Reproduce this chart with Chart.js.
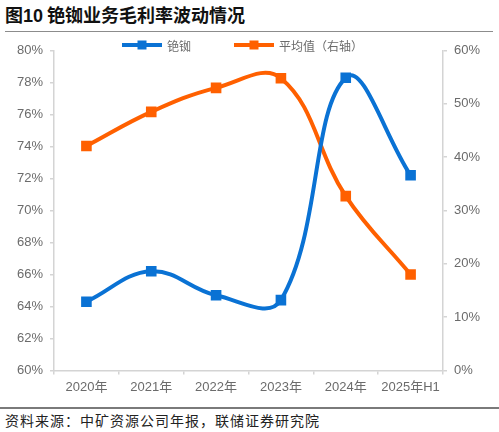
<!DOCTYPE html>
<html>
<head>
<meta charset="utf-8">
<script src="https://cdn.jsdelivr.net/npm/chart.js@4.4.1/dist/chart.umd.min.js"></script>
<style>
  html, body { margin: 0; padding: 0; background: #fff; }
  body { width: 499px; height: 432px; position: relative; overflow: hidden; font-family: "Noto Sans CJK SC", sans-serif; }
  #title { position: absolute; left: 5px; top: 1px; font-size: 18px; font-weight: bold; color: #111; white-space: nowrap; }
  #title .num { font-family: "Liberation Sans", Arial, sans-serif; }
  #rule1 { position: absolute; left: 5px; top: 31px; width: 488px; height: 1px; background: #8c8c8c; }
  #wrap { position: absolute; left: 0; top: 33px; width: 499px; height: 372px; }
  #rule2 { position: absolute; left: 0; top: 407px; width: 499px; height: 2px; background: #7a7a7a; }
  #source { position: absolute; left: 5px; top: 410px; font-size: 14px; color: #222; letter-spacing: 1px; white-space: nowrap; }
</style>
</head>
<body>
<div id="title">图<span class="num">10</span> 铯铷业务毛利率波动情况</div>
<div id="rule1"></div>
<div id="wrap"><canvas id="marginChart" width="499" height="372"></canvas></div>
<div id="rule2"></div>
<div id="source">资料来源：中矿资源公司年报，联储证券研究院</div>
<script>
const years = ['2020年', '2021年', '2022年', '2023年', '2024年', '2025年H1'];
const csRbMargin = [64.3, 66.2, 64.7, 64.4, 78.3, 72.2];
const avgMargin = [42.1, 48.5, 53.0, 54.8, 32.7, 18.0];
const leftTicks = { min: 60, max: 80, step: 2 };
const rightTicks = { min: 0, max: 60, step: 10 };

const blue = '#0a72d4';
const orange = '#ff6000';
const axisGrey = '#d4d4d4';
const labelGrey = '#6b6b6b';
const tickFont = { family: '"Liberation Sans", Arial, "Noto Sans CJK SC", sans-serif', size: 13 };

// legend drawn as line + square, like the office chart
const lineLegend = {
  id: 'lineLegend',
  afterDraw(chart) {
    const ctx = chart.ctx;
    const sets = chart.data.datasets;
    const lineLen = 40, gapText = 5, gapItem = 43;
    ctx.save();
    ctx.font = '12px "Noto Sans CJK SC", sans-serif';
    let total = 0;
    sets.forEach((ds, i) => {
      total += lineLen + gapText + ctx.measureText(ds.label).width;
      if (i < sets.length - 1) total += gapItem;
    });
    let x = chart.width / 2 - total / 2 - 7;
    const y = 12;
    sets.forEach(ds => {
      ctx.strokeStyle = ds.borderColor;
      ctx.lineWidth = 4;
      ctx.beginPath();
      ctx.moveTo(x, y);
      ctx.lineTo(x + lineLen, y);
      ctx.stroke();
      ctx.fillStyle = ds.borderColor;
      ctx.fillRect(x + lineLen / 2 - 4.5, y - 4.5, 9, 9);
      ctx.fillStyle = labelGrey;
      ctx.textBaseline = 'middle';
      ctx.fillText(ds.label, x + lineLen + gapText, y + 1);
      x += lineLen + gapText + ctx.measureText(ds.label).width + gapItem;
    });
    ctx.restore();
  }
};

const ctx = document.getElementById('marginChart').getContext('2d');
const marginChart = new Chart(ctx, {
  type: 'line',
  data: {
    labels: years,
    datasets: [{
      label: '铯铷',
      data: csRbMargin,
      yAxisID: 'y',
      borderColor: blue,
      backgroundColor: blue,
      borderWidth: 4,
      pointStyle: 'rect',
      pointRadius: 7.5,
      pointBorderWidth: 0,
      tension: 0.4
    }, {
      label: '平均值（右轴）',
      data: avgMargin,
      yAxisID: 'y1',
      borderColor: orange,
      backgroundColor: orange,
      borderWidth: 4,
      pointStyle: 'rect',
      pointRadius: 7.5,
      pointBorderWidth: 0,
      tension: 0.4
    }]
  },
  options: {
    responsive: false,
    animation: false,
    layout: { padding: { top: 17.5, left: 0, right: 0, bottom: 0 } },
    plugins: {
      legend: { display: false },
      tooltip: { enabled: false }
    },
    scales: {
      x: {
        offset: true,
        grid: { display: true, offset: true, drawOnChartArea: false, tickLength: 4, color: axisGrey, lineWidth: 1.5 },
        border: { color: axisGrey, width: 1.5 },
        ticks: { color: labelGrey, font: tickFont, padding: 5, maxRotation: 0, autoSkip: false },
        afterFit: scale => { scale.height = 34.5; }
      },
      y: {
        position: 'left',
        min: leftTicks.min,
        max: leftTicks.max,
        grid: { display: true, drawOnChartArea: false, tickLength: 4, color: axisGrey, lineWidth: 1.5 },
        border: { color: axisGrey, width: 1.5 },
        ticks: { stepSize: leftTicks.step, color: labelGrey, font: tickFont, padding: 7, callback: v => v + '%' },
        afterFit: scale => { scale.width = 54; }
      },
      y1: {
        position: 'right',
        min: rightTicks.min,
        max: rightTicks.max,
        grid: { display: true, drawOnChartArea: false, tickLength: 4, color: axisGrey, lineWidth: 1.5 },
        border: { color: axisGrey, width: 1.5 },
        ticks: { stepSize: rightTicks.step, color: labelGrey, font: tickFont, padding: 7, callback: v => v + '%' },
        afterFit: scale => { scale.width = 56; }
      }
    }
  },
  plugins: [lineLegend]
});
</script>
</body>
</html>
